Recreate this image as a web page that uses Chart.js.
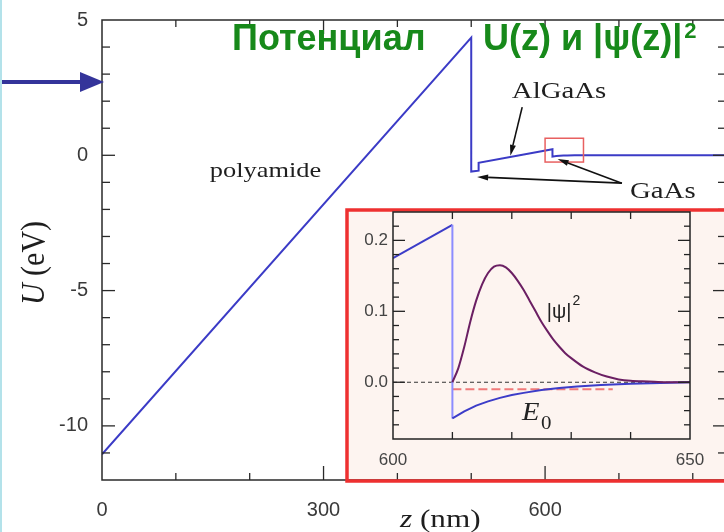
<!DOCTYPE html>
<html><head><meta charset="utf-8">
<script src="https://cdn.jsdelivr.net/npm/chart.js@4"></script>
<style>
html,body{margin:0;padding:0;background:#fff;overflow:hidden;width:724px;height:532px;}
#wrap{position:relative;width:724px;height:532px;overflow:hidden;}
#main{position:absolute;left:0;top:0;}
#inset{position:absolute;left:340px;top:200px;}
</style></head><body>
<div id="wrap"><canvas id="main" width="740" height="532"></canvas><canvas id="inset" width="384" height="290"></canvas></div>
<script>
// ---------- data ----------
const mainZ = [0, 500, 500, 510, 510, 610, 610, 615, 620, 625, 630, 640, 650, 845];
const mainU = [-11.05, 4.35, -0.6, -0.57, -0.28, 0.222, -0.051, -0.03, -0.018, -0.011, -0.006, -0.002, 0, 0];
const mainXTicks = [0, 300, 600];
const mainYTicks = [-10, -5, 0, 5];

const insetPotZ = [600, 610, 610, 612, 614, 616, 618, 620, 622, 625, 628, 631, 635, 640, 645, 650];
const insetPotU = [0.175, 0.222, -0.051, -0.041, -0.033, -0.027, -0.022, -0.018, -0.015, -0.011, -0.008, -0.006, -0.004, -0.002, -0.001, 0];
const psiZ = [610, 611, 612, 613, 614, 615, 616, 617, 618, 619, 620, 621, 622, 623, 624, 625, 626, 627, 628, 629, 630, 632, 634, 636, 638, 640, 643, 646, 650];
const psiVal = [0, 0.02, 0.05, 0.085, 0.115, 0.138, 0.154, 0.163, 0.165, 0.162, 0.154, 0.143, 0.13, 0.115, 0.1, 0.085, 0.072, 0.06, 0.05, 0.041, 0.034, 0.022, 0.014, 0.008, 0.004, 0.002, 0.001, 0, 0];
const e0Z = [610, 637];
const e0Val = [-0.01, -0.01];
const zeroZ = [600, 650];
const zeroVal = [0, 0];
const insetXTicks = [600, 650];
const insetYTicks = [0.0, 0.1, 0.2];

const pts = (xs, ys) => xs.map((x, i) => ({x, y: ys[i]}));

function line(c, x1, y1, x2, y2) { c.beginPath(); c.moveTo(x1, y1); c.lineTo(x2, y2); c.stroke(); }
function arrow(c, x1, y1, x2, y2, head, hw, w, color) {
  c.save(); c.strokeStyle = color; c.fillStyle = color; c.lineWidth = w;
  const ang = Math.atan2(y2 - y1, x2 - x1);
  const bx = x2 - head * Math.cos(ang), by = y2 - head * Math.sin(ang);
  line(c, x1, y1, bx, by);
  c.beginPath(); c.moveTo(x2, y2);
  c.lineTo(bx + hw * Math.sin(ang), by - hw * Math.cos(ang));
  c.lineTo(bx - hw * Math.sin(ang), by + hw * Math.cos(ang));
  c.closePath(); c.fill(); c.restore();
}
function stretchText(c, txt, x, y, font, sx) {
  c.save(); c.font = font; c.translate(x, y); c.scale(sx, 1); c.fillText(txt, 0, 0); c.restore();
}
function noPadX(s) { s.paddingLeft = 0; s.paddingRight = 0; }
function noPadY(s) { s.paddingTop = 0; s.paddingBottom = 0; }

// ---------- main chart ----------
const mainFrame = {
  id: 'mainFrame',
  beforeDraw(chart) {
    const c = chart.ctx; c.save(); c.fillStyle = '#fdf4f0'; c.fillRect(347, 210, 400, 271); c.restore();
  },
  afterDatasetsDraw(chart) {
    const {ctx: c, chartArea: a, scales: {x, y}} = chart;
    c.save(); c.strokeStyle = '#2a2a2a'; c.lineWidth = 1.5;
    c.strokeRect(a.left, a.top, a.right - a.left, a.bottom - a.top);
    c.lineWidth = 1.3;
    for (let v = 100; v < x.max; v += 100) {
      const px = x.getPixelForValue(v), L = v % 300 === 0 ? 14 : 7;
      line(c, px, a.bottom, px, a.bottom - L); line(c, px, a.top, px, a.top + L);
    }
    for (let v = -11; v < 5; v++) {
      const py = y.getPixelForValue(v), L = v % 5 === 0 ? 13 : 8;
      line(c, a.left, py, a.left + L, py); line(c, a.right, py, a.right - L, py);
    }
    c.restore();
  },
  afterDraw(chart) {
    const {ctx: c, scales: {x, y}} = chart;
    c.save();
    // red border of the inset
    c.strokeStyle = '#ee3030'; c.lineWidth = 3.5;
    c.strokeRect(347, 210, 420, 271);
    // small red box on the main curve
    c.strokeStyle = '#e86060'; c.lineWidth = 1.5;
    const bx1 = x.getPixelForValue(600), bx2 = x.getPixelForValue(652), by1 = y.getPixelForValue(0.63), by2 = y.getPixelForValue(-0.25);
    c.strokeRect(bx1, by1, bx2 - bx1, by2 - by1);
    // labels
    c.fillStyle = '#1e1e1e'; c.textBaseline = 'alphabetic';
    stretchText(c, 'polyamide', x.getPixelForValue(146), y.getPixelForValue(-0.8), '22px "Liberation Serif"', 1.2);
    stretchText(c, 'AlGaAs', x.getPixelForValue(555), y.getPixelForValue(2.11), '24px "Liberation Serif"', 1.2);
    stretchText(c, 'GaAs', x.getPixelForValue(715), y.getPixelForValue(-1.58), '24px "Liberation Serif"', 1.2);
    // arrows
    arrow(c, x.getPixelForValue(569), y.getPixelForValue(1.78), x.getPixelForValue(553), y.getPixelForValue(-0.02), 11, 3, 1.6, '#111');
    arrow(c, x.getPixelForValue(704), y.getPixelForValue(-1.03), x.getPixelForValue(508), y.getPixelForValue(-0.8), 11, 3, 1.6, '#111');
    arrow(c, x.getPixelForValue(704), y.getPixelForValue(-1.03), x.getPixelForValue(617), y.getPixelForValue(-0.14), 11, 3, 1.6, '#111');
    // axis titles
    c.fillStyle = '#1e1e1e';
    c.save(); c.translate(44, 263); c.scale(1.15, 1); c.rotate(-Math.PI / 2);
    c.textAlign = 'left';
    c.font = 'italic 30px "Liberation Serif"'; const wU = c.measureText('U').width;
    c.font = '30px "Liberation Serif"'; const wR = c.measureText(' (eV)').width;
    const st = -(wU + wR) / 2;
    c.font = 'italic 30px "Liberation Serif"'; c.fillText('U', st, 0);
    c.font = '30px "Liberation Serif"'; c.fillText(' (eV)', st + wU, 0);
    c.restore();
    c.save(); c.translate(400, 527); c.scale(1.2, 1);
    c.font = 'italic 26px "Liberation Serif"'; c.fillText('z', 0, 0);
    const wz = c.measureText('z').width;
    c.font = '26px "Liberation Serif"'; c.fillText(' (nm)', wz, 0);
    c.restore();
    // title
    c.fillStyle = '#17891a';
    c.font = 'bold 36px "Liberation Sans"';
    c.fillText('Потенциал', 232, 50);
    c.fillText('U(z) и |ψ(z)|', 483, 50);
    const wt = c.measureText('U(z) и |ψ(z)|').width;
    c.font = 'bold 22px "Liberation Sans"';
    c.fillText('2', 483 + wt + 2, 38);
    // left navy arrow
    c.fillStyle = '#34349a'; c.strokeStyle = '#34349a'; c.lineWidth = 4;
    line(c, 0, 82, 84, 82);
    c.beginPath(); c.moveTo(80, 72); c.lineTo(104, 82); c.lineTo(80, 92); c.closePath(); c.fill();
    // cyan strip at the left edge
    c.fillStyle = '#b3e2ea'; c.fillRect(0, 0, 2, 532);
    c.restore();
  }
};

const mainChart = new Chart(document.getElementById('main'), {
  type: 'scatter',
  data: { datasets: [{
    data: pts(mainZ, mainU), showLine: true, borderColor: '#3b3bc6', borderWidth: 2,
    pointRadius: 0, tension: 0, fill: false
  }]},
  options: {
    responsive: false, animation: false, devicePixelRatio: 1,
    layout: { padding: { left: 0, top: 20, right: 14, bottom: 0 } },
    plugins: { legend: { display: false }, tooltip: { enabled: false } },
    scales: {
      x: {
        type: 'linear', min: 0, max: 845,
        afterFit(s) { s.height = 52; noPadX(s); },
        afterBuildTicks(s) { s.ticks = mainXTicks.map(v => ({value: v})); },
        grid: { display: false, drawTicks: false }, border: { display: false },
        ticks: { color: '#3a3a3a', font: { family: 'Liberation Sans', size: 20 }, padding: 18, maxRotation: 0, autoSkip: false }
      },
      y: {
        type: 'linear', min: -12, max: 5,
        afterFit(s) { s.width = 102; noPadY(s); },
        afterBuildTicks(s) { s.ticks = mainYTicks.map(v => ({value: v})); },
        grid: { display: false, drawTicks: false }, border: { display: false },
        ticks: { color: '#3a3a3a', font: { family: 'Liberation Sans', size: 20 }, padding: 14, autoSkip: false }
      }
    }
  },
  plugins: [mainFrame]
});

// ---------- inset chart ----------
const insetFrame = {
  id: 'insetFrame',
  afterDatasetsDraw(chart) {
    const {ctx: c, chartArea: a, scales: {x, y}} = chart;
    c.save(); c.strokeStyle = '#222'; c.lineWidth = 1.5;
    c.strokeRect(a.left, a.top, a.right - a.left, a.bottom - a.top);
    c.lineWidth = 1.3;
    for (let v = 610; v < 650; v += 10) {
      const px = x.getPixelForValue(v);
      line(c, px, a.bottom, px, a.bottom - 7); line(c, px, a.top, px, a.top + 7);
    }
    for (let k = -3; k <= 11; k++) {
      const py = y.getPixelForValue(k * 0.02), L = k % 5 === 0 ? 12 : 6;
      line(c, a.left, py, a.left + L, py); line(c, a.right, py, a.right - L, py);
    }
    // labels
    c.fillStyle = '#222'; c.textBaseline = 'alphabetic';
    const lx = x.getPixelForValue(625.9), ly = y.getPixelForValue(0.09);
    c.font = '20px "Liberation Sans"'; c.fillText('|ψ|', lx, ly);
    const w = c.measureText('|ψ|').width;
    c.font = '14px "Liberation Sans"'; c.fillText('2', lx + w + 1, ly - 13);
    const ex = x.getPixelForValue(621.7), ey = y.getPixelForValue(-0.0535);
    stretchText(c, 'E', ex, ey, 'italic 26px "Liberation Serif"', 1.1);
    stretchText(c, '0', ex + 19, ey + 9, '19px "Liberation Serif"', 1.1);
    c.restore();
  }
};

const insetChart = new Chart(document.getElementById('inset'), {
  type: 'scatter',
  data: { datasets: [
    { data: pts(psiZ, psiVal), showLine: true, borderColor: '#6b1f63', borderWidth: 2, pointRadius: 0, cubicInterpolationMode: 'monotone' },
    { data: pts(insetPotZ, insetPotU), showLine: true, borderColor: '#3c3cc8', borderWidth: 2, pointRadius: 0, tension: 0,
      segment: { borderColor: ctx => ctx.p0.parsed.x === ctx.p1.parsed.x ? '#8c8cff' : '#3c3cc8' } },
    { data: pts(e0Z, e0Val), showLine: true, borderColor: '#f07a7a', borderWidth: 2, borderDash: [9, 4], pointRadius: 0 },
    { data: pts(zeroZ, zeroVal), showLine: true, borderColor: '#333', borderWidth: 1, borderDash: [4, 3], pointRadius: 0 }
  ]},
  options: {
    responsive: false, animation: false, devicePixelRatio: 1,
    layout: { padding: { left: 0, top: 12, right: 34, bottom: 0 } },
    plugins: { legend: { display: false }, tooltip: { enabled: false } },
    scales: {
      x: {
        type: 'linear', min: 600, max: 650,
        afterFit(s) { s.height = 51; noPadX(s); },
        afterBuildTicks(s) { s.ticks = insetXTicks.map(v => ({value: v})); },
        grid: { display: false, drawTicks: false }, border: { display: false },
        ticks: { color: '#444', font: { family: 'Liberation Sans', size: 17 }, padding: 11, maxRotation: 0, autoSkip: false }
      },
      y: {
        type: 'linear', min: -0.08, max: 0.24,
        afterFit(s) { s.width = 53; noPadY(s); },
        afterBuildTicks(s) { s.ticks = insetYTicks.map(v => ({value: v})); },
        grid: { display: false, drawTicks: false }, border: { display: false },
        ticks: { color: '#444', font: { family: 'Liberation Sans', size: 17 }, padding: 5, autoSkip: false, callback: v => Number(v).toFixed(1) }
      }
    }
  },
  plugins: [insetFrame]
});
</script>
</body></html>
